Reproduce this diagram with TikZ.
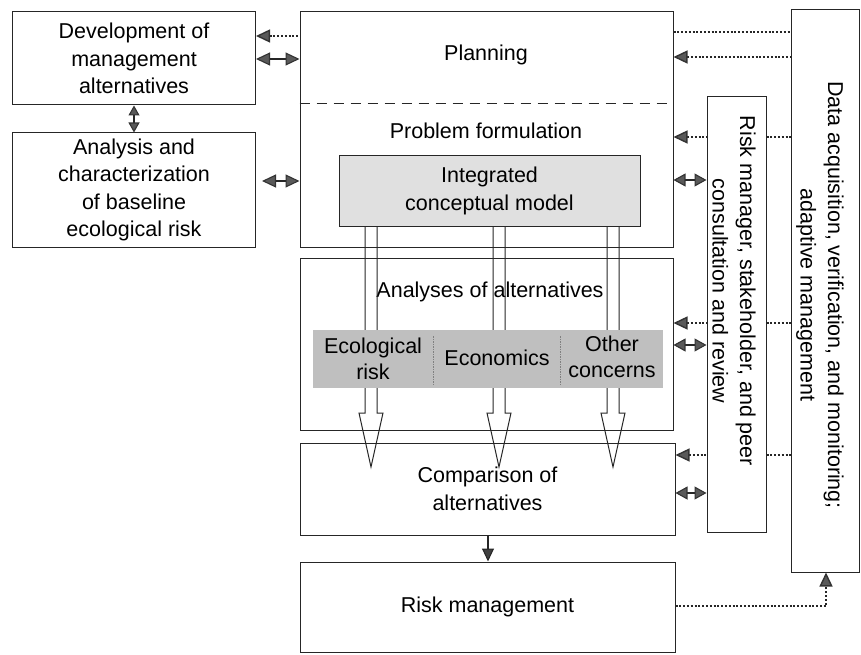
\documentclass[tikz,border=0pt]{standalone}
\usepackage{fontspec}
\setmainfont{Liberation Sans}
\usetikzlibrary{arrows.meta}
\tikzset{
  bigtip/.tip={Triangle[length=14pt,width=13pt,fill=black!65,color=black!80]},
  smalltip/.tip={Triangle[length=12pt,width=13pt,fill=black!65,color=black!80]},
  vtip/.tip={Triangle[length=10pt,width=11pt,fill=black!65,color=black!80]},
  downtip/.tip={Triangle[length=13pt,width=12pt,fill=black!75,color=black!85]}
}
\begin{document}
\begin{tikzpicture}[x=1pt,y=-1pt,
  font=\fontsize{21.5}{27.5}\selectfont,
  box/.style={draw=black!85, line width=1pt, inner sep=0pt, align=center},
  dots/.style={line width=1.4pt, dash pattern=on 2pt off 1.8pt, black!85},
  link/.style={line width=1.1pt, black!85},
  bandtext/.style={align=center, font=\fontsize{21.5}{25.5}\selectfont},
  hollow/.style={draw=black!85, line width=1pt, line join=miter}]
\useasboundingbox (0,0) rectangle (861,655);

% left column
\node[box, minimum width=243pt, minimum height=93pt] (dev) at (134,58.5)
  {Development of\\management\\alternatives};
\node[box, minimum width=243pt, minimum height=114pt] (base) at (134,190)
  {Analysis and\\characterization\\of baseline\\ecological risk};

% central column
\node[box, minimum width=373pt, minimum height=235pt] (plan) at (486.5,129.5) {};
\node (plantxt) at (486,55) {Planning};
\node (probtxt) at (486,131) {Problem formulation};
\draw[dash pattern=on 10pt off 7pt, line width=1pt, black!85]
  (plan.west |- 0,104) coordinate (dl) -- (plan.east |- 0,104) coordinate (dr);

\node[box, minimum width=373pt, minimum height=172pt] (anal) at (486.5,344) {};
\node (analtxt) at (490,292) {Analyses of alternatives};

\node[box, minimum width=375pt, minimum height=92pt] (comp) at (487.5,489)
  {Comparison of\\alternatives};
\node[box, minimum width=375pt, minimum height=90pt] (rm) at (487.5,607)
  {Risk management};

\node[box, fill=black!12, minimum width=301pt, minimum height=70pt] (icm) at (489.5,191)
  {Integrated\\conceptual model};

% hollow block arrows from the conceptual model
\foreach \cx/\nm in {371/ha, 499/hb, 613/hc}{
  \draw[hollow] (\cx-6,226) -- (\cx-6,413) -- (\cx-12,413) -- (\cx,467) coordinate (\nm)
    -- (\cx+12,413) -- (\cx+6,413) -- (\cx+6,226);
}

% shaded band of analyses
\fill[black!25] (313,330) rectangle (663,388);
\node[bandtext] (eco) at (373,359) {Ecological\\risk};
\node[bandtext] (econ) at (497,358) {Economics};
\node[bandtext] (oth) at (612,357) {Other\\concerns};
\draw[black!50, line width=0.8pt, dash pattern=on 1.5pt off 1pt] (433,336) -- (433,384);
\draw[black!50, line width=0.8pt, dash pattern=on 1.5pt off 1pt] (560,336) -- (560,384);

% right column
\node[box, minimum width=59pt, minimum height=435pt] (rev) at (736.5,314.5) {};
\node[rotate=-90, align=center] (revtxt) at (734,291)
  {Risk manager, stakeholder, and peer\\consultation and review};
\node[box, minimum width=68pt, minimum height=562pt] (data) at (825,291) {};
\node[rotate=-90, align=center] (datatxt) at (820,295)
  {Data acquisition, verification, and monitoring;\\adaptive management};

% links on the left
\draw[link, vtip-vtip] (dev.south) -- (base.north);
\draw[dots, bigtip-] (dev.east |- 0,36) -- (plan.west |- 0,36);
\draw[link, bigtip-bigtip] (dev.east |- 0,59) -- (plan.west |- 0,59);
\draw[link, bigtip-bigtip] (262,181) coordinate (bl) -- (plan.west |- 0,181);
\draw[link, -downtip] (comp.south -| 488,0) -- (rm.north -| 488,0);

% links on the right
\draw[dots] (plan.east |- 0,32) -- (data.west |- 0,32);
\draw[dots, bigtip-] (plan.east |- 0,57) -- (data.west |- 0,57);
\foreach \ya/\yb/\bx in {137/180/plan, 323/345/anal, 455/493/comp}{
  \draw[dots, bigtip-] (\bx.east |- 0,\ya) -- (rev.west |- 0,\ya);
  \draw[dots] (rev.east |- 0,\ya) -- (data.west |- 0,\ya);
  \draw[link, smalltip-smalltip] (\bx.east |- 0,\yb) -- (rev.west |- 0,\yb);
}
\draw[dots, -bigtip] (rm.east |- 0,606) -- (826,606) -- (826,0 |- data.south);
\end{tikzpicture}
\end{document}
